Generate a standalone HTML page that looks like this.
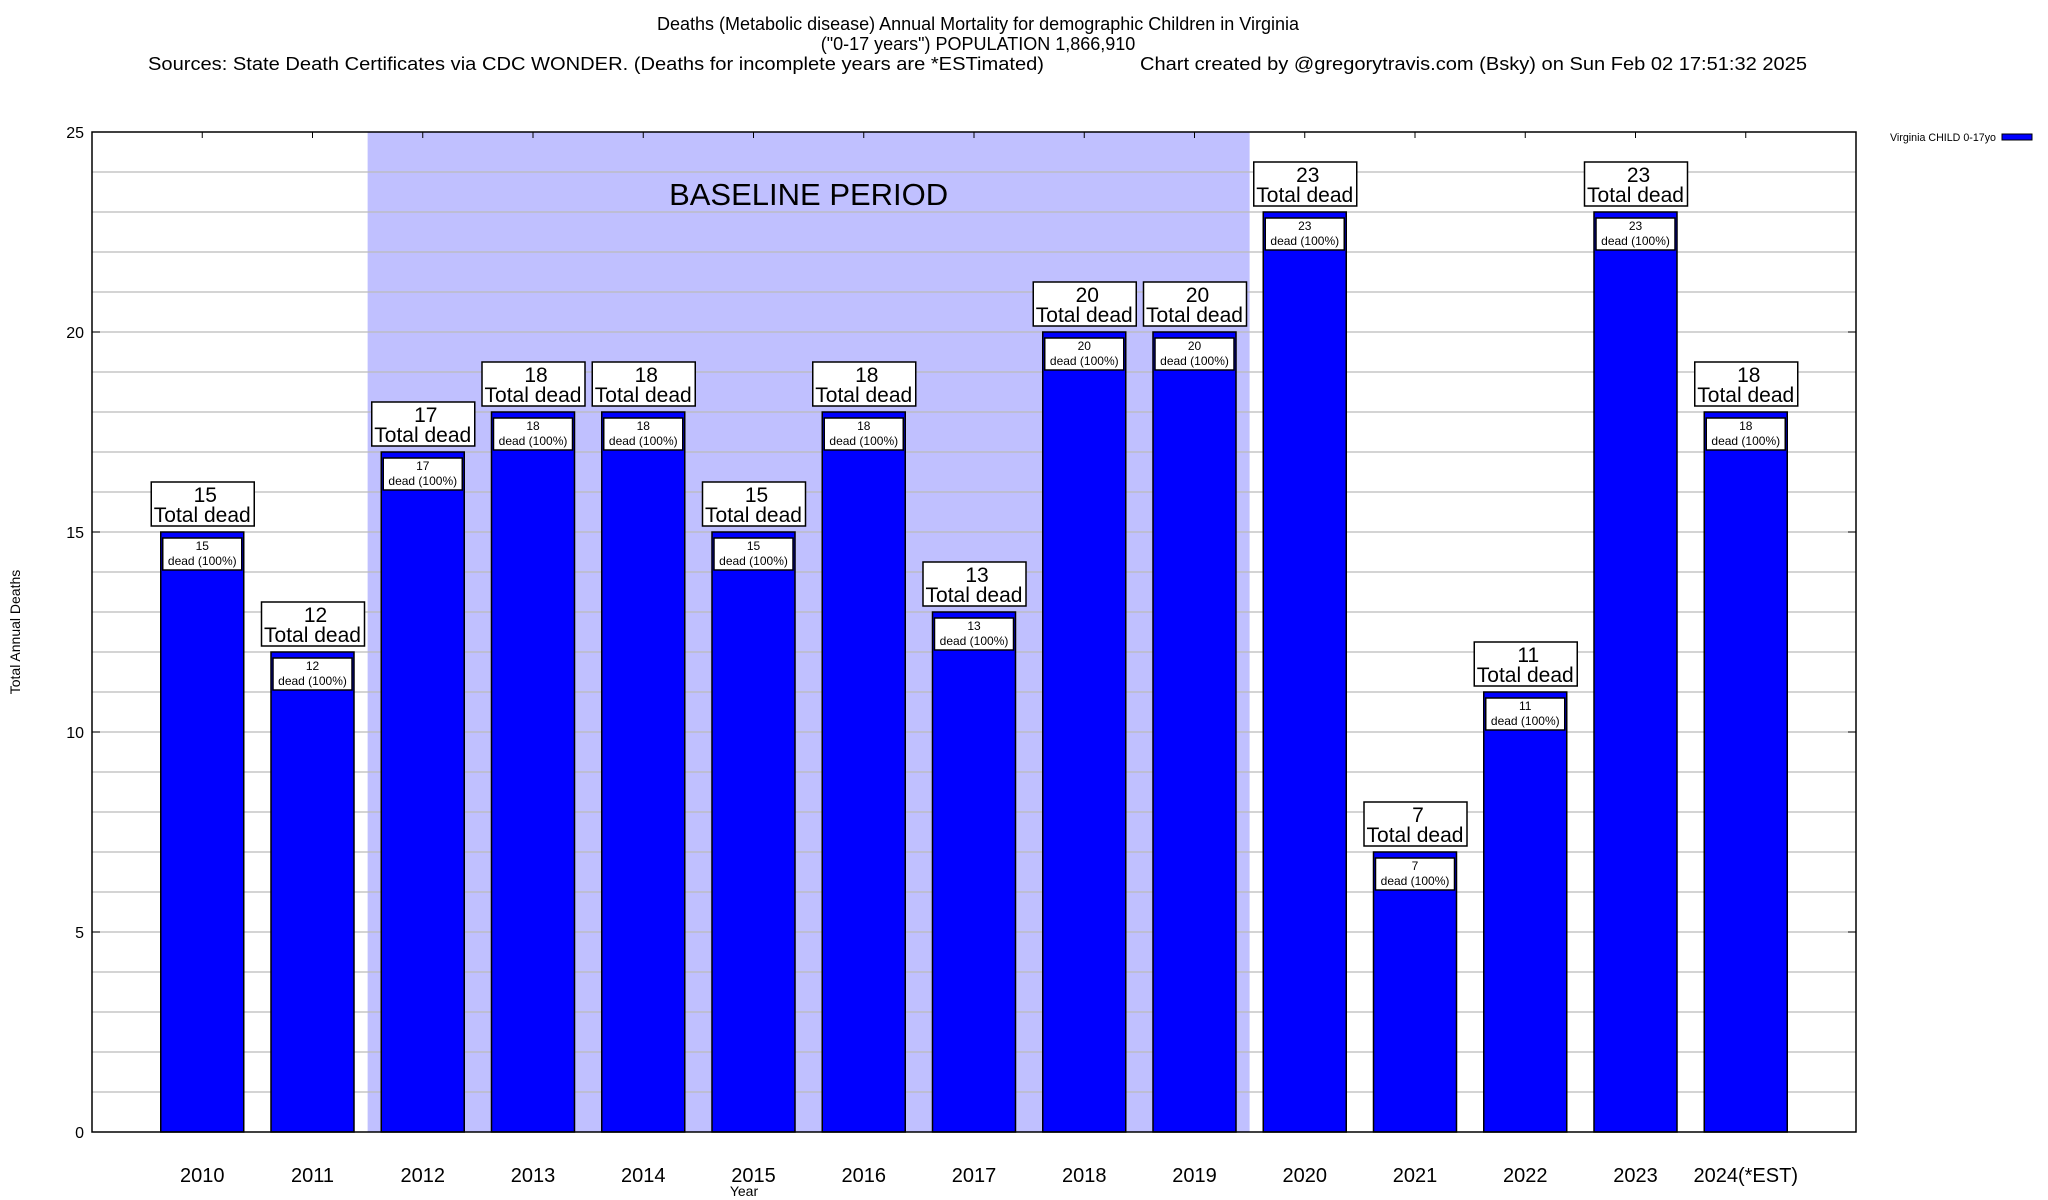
<!DOCTYPE html>
<html><head><meta charset="utf-8"><style>
html,body{margin:0;padding:0;background:#fff;}
svg{display:block;font-family:"Liberation Sans",Arial,sans-serif;}
</style></head><body>
<svg id="chart" width="2048" height="1200" viewBox="0 0 2048 1200">
<g font-size="18" fill="#000">
<text x="978" y="30" text-anchor="middle">Deaths (Metabolic disease) Annual Mortality for demographic Children in Virginia</text>
<text x="978" y="50" text-anchor="middle">("0-17 years") POPULATION 1,866,910</text>
<text x="148" y="70" textLength="896" lengthAdjust="spacingAndGlyphs">Sources: State Death Certificates via CDC WONDER. (Deaths for incomplete years are *ESTimated)</text>
<text x="1140" y="70" textLength="667" lengthAdjust="spacingAndGlyphs">Chart created by @gregorytravis.com (Bsky) on Sun Feb 02 17:51:32 2025</text>
</g>
<g id="plot"></g>
<g>
<text x="1890" y="141" font-size="11" textLength="106" lengthAdjust="spacingAndGlyphs">Virginia CHILD 0-17yo</text>
<rect x="2002" y="134" width="30" height="6" fill="#0000ff" stroke="#000" stroke-width="1"/>
</g>
<text x="744" y="1196" font-size="14" text-anchor="middle">Year</text>
<text transform="translate(20,632) rotate(-90)" font-size="14" text-anchor="middle">Total Annual Deaths</text>
</svg>
<script>
const categories = ["2010","2011","2012","2013","2014","2015","2016","2017","2018","2019","2020","2021","2022","2023","2024(*EST)"];
const deaths = [15,12,17,18,18,15,18,13,20,20,23,7,11,23,18];
const yTicks = [0,5,10,15,20,25];
const baselineStart = 2, baselineEnd = 9; // category indices 2012..2019

const L=92, R=1856, T=132, B=1132, YMAX=25, NX=categories.length+1;
const xs = i => L + (R-L)*(i+1)/NX;
const xe = v => L + (R-L)*v/NX;
const ys = v => B - (B-T)*v/YMAX;
const NS="http://www.w3.org/2000/svg";
const plot=document.getElementById('plot');
function mk(tag,attrs,parent){const e=document.createElementNS(NS,tag);for(const k in attrs)e.setAttribute(k,attrs[k]);(parent||plot).appendChild(e);return e;}

// baseline shading
const sh=mk('rect',{x:xe(baselineStart+0.5),y:T,width:xe(baselineEnd+1.5)-xe(baselineStart+0.5),height:B-T,fill:'#c0c0ff'});


const bt=mk('text',{x:(xe(baselineStart+0.5)+xe(baselineEnd+1.5))/2,y:205,'font-size':31,'text-anchor':'middle'});
bt.textContent='BASELINE PERIOD';



// grid
for(let v=1;v<YMAX;v++){
  const g=mk('line',{x1:L,x2:R,y1:ys(v),y2:ys(v),stroke:'#bbbbbb','stroke-width':1.2});
  
  
}
// y ticks
yTicks.forEach(v=>{
  const t=mk('text',{x:84,y:ys(v)+6,'font-size':16,'text-anchor':'end'});
  t.textContent=v;
  
  
  mk('line',{x1:L,x2:L+8,y1:ys(v),y2:ys(v),stroke:'#000'});
  mk('line',{x1:R,x2:R-8,y1:ys(v),y2:ys(v),stroke:'#000'});
});
const bw=83;
categories.forEach((c,i)=>{
  const cx=xs(i), v=deaths[i], top=ys(v);
  mk('line',{x1:cx,x2:cx,y1:T,y2:T+6,stroke:'#000'});
  const bar=mk('rect',{x:cx-bw/2,y:top,width:bw,height:B-top,fill:'#0000ff',stroke:'#000','stroke-width':1.5});
  
  
  const ib=mk('rect',{x:cx-bw/2+2,y:top+6,width:bw-4,height:32,fill:'#fff',stroke:'#000','stroke-width':1.5});
  
  
  const t1=mk('text',{x:cx,y:top+18,'font-size':12,'text-anchor':'middle'});t1.textContent=v;
  
  
  const t2=mk('text',{x:cx,y:top+33,'font-size':12,'text-anchor':'middle'});t2.textContent='dead (100%)';
  
  
  const ob=mk('rect',{x:cx-51,y:top-50,width:103,height:44,fill:'#fff',stroke:'#000','stroke-width':1.5});
  
  
  const o1=mk('text',{x:cx+3,y:top-30,'font-size':21,'text-anchor':'middle'});o1.textContent=v;
  
  
  const o2=mk('text',{x:cx,y:top-10,'font-size':21,'text-anchor':'middle'});o2.textContent='Total dead';
  
  
  const xl=mk('text',{x:cx,y:1182,'font-size':20,'text-anchor':'middle'});xl.textContent=c;
  
  
});
const fr=mk('rect',{x:L,y:T,width:R-L,height:B-T,fill:'none',stroke:'#000','stroke-width':1.5});


</script>
</body></html>
